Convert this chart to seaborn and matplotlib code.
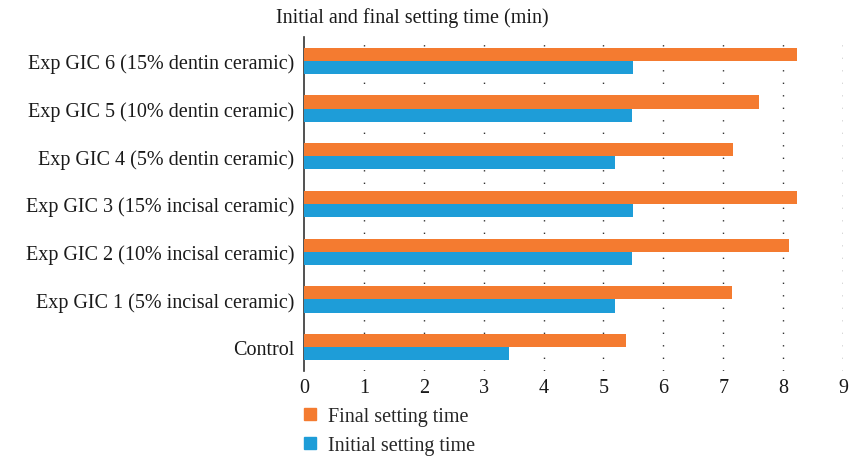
#libraries

import pandas as pd
import matplotlib.pyplot as plt
import seaborn as sns

groups = ['Exp GIC 6 (15% dentin ceramic)', 'Exp GIC 5 (10% dentin ceramic)',
          'Exp GIC 4 (5% dentin ceramic)', 'Exp GIC 3 (15% incisal ceramic)',
          'Exp GIC 2 (10% incisal ceramic)', 'Exp GIC 1 (5% incisal ceramic)',
          'Control']
final_time = [8.23, 7.59, 7.16, 8.23, 8.09, 7.14, 5.38]      # final setting time (min)
initial_time = [5.50, 5.48, 5.20, 5.50, 5.48, 5.20, 3.42]    # initial setting time (min)
series = ['Final setting time', 'Initial setting time']
colors = ['#F47B30', '#1E9DD8']

# long format for seaborn
df = pd.DataFrame({
    'group': groups * 2,
    'time': final_time + initial_time,
    'series': [series[0]] * len(groups) + [series[1]] * len(groups),
})

sns.set_style('white')
plt.rcParams['font.family'] = ['Liberation Serif', 'DejaVu Serif']

fig = plt.figure(figsize=(8.52, 4.64), dpi=100)
ax = fig.add_axes([304 / 852, 1 - 372 / 464, 539 / 852, 334 / 464])

sns.barplot(data=df, x='time', y='group', hue='series', order=groups,
            hue_order=series, palette=colors, orient='h', width=0.55,
            saturation=1, linewidth=0, ax=ax, legend=False, zorder=3)

ax.set_xlim(0, 9)
ax.set_ylim(6.5, -0.5)
ax.set_xticks(range(10))
ax.set_xlabel('')
ax.set_ylabel('')
ax.tick_params(axis='both', length=0, labelsize=14.5, colors='#1a1a1a')
ax.tick_params(axis='y', pad=7)
ax.tick_params(axis='x', pad=5)

# dotted vertical grid
for v in range(1, 10):
    ax.axvline(v, color='#333333', lw=1, ls=(0, (1, 8)), zorder=1)

for s in ['top', 'right', 'bottom']:
    ax.spines[s].set_visible(False)
ax.spines['left'].set_color('#333333')
ax.spines['left'].set_linewidth(1.2)

fig.text(412 / 852, 1 - 18 / 464, 'Initial and final setting time (min)',
         ha='center', va='center', fontsize=14.5, color='#1a1a1a')

handles = [plt.Rectangle((0, 0), 1, 1, color=c) for c in colors]
fig.legend(handles, series, loc='lower left', bbox_to_anchor=(286 / 852, -0.022),
           frameon=False, fontsize=14.5, handlelength=0.6, handleheight=0.6,
           handletextpad=0.6, labelspacing=0.5)

plt.savefig('out.png', dpi=100)
